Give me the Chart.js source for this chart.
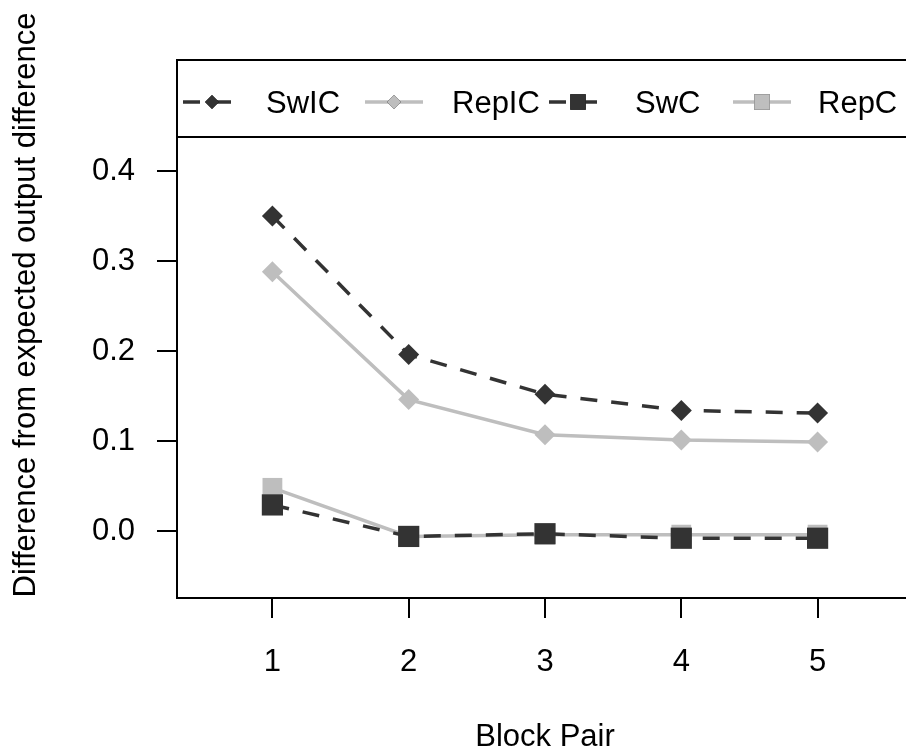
<!DOCTYPE html>
<html>
<head>
<meta charset="utf-8">
<script src="https://cdn.jsdelivr.net/npm/chart.js@4"></script>
<style>
  html, body { margin: 0; padding: 0; background: #fff; overflow: hidden; }
  #wrap { width: 906px; height: 751px; overflow: hidden; position: relative; }
  canvas { display: block; }
</style>
</head>
<body>
<div id="wrap"><canvas id="chart" width="930" height="751" style="width:930px;height:751px"></canvas></div>
<script>
// data
const blockPair = [1, 2, 3, 4, 5];
const swIC = [0.350, 0.196, 0.152, 0.134, 0.131];
const repIC = [0.288, 0.146, 0.107, 0.101, 0.099];
const swC = [0.029, -0.006, -0.003, -0.008, -0.008];
const repC = [0.048, -0.006, -0.004, -0.004, -0.004];
const yTicks = [0.0, 0.1, 0.2, 0.3, 0.4];
const seriesNames = ['SwIC', 'RepIC', 'SwC', 'RepC'];

const DARK = '#333333';
const GREY = '#bebebe';
const FONT = '"Liberation Sans", Arial, sans-serif';

function pts(vals) {
  return blockPair.map((x, i) => ({ x: x, y: vals[i] }));
}

function makeSet(label, vals, color, dashed, shape, radius) {
  return {
    label: label,
    data: pts(vals),
    borderColor: color,
    backgroundColor: color,
    borderWidth: 3.5,
    borderDash: dashed ? [17, 14] : [],
    pointStyle: shape,
    pointRadius: radius,
    pointHoverRadius: radius,
    pointBorderWidth: 0,
    pointBackgroundColor: color,
    tension: 0
  };
}

// box around the plot + legend box on top + axis titles
const frame = {
  id: 'frame',
  afterDraw(chart) {
    const ctx = chart.ctx;
    const a = chart.chartArea;
    ctx.save();
    ctx.strokeStyle = '#000';
    ctx.lineWidth = 2;
    ctx.strokeRect(a.left, a.top, a.right - a.left, a.bottom - a.top);

    // legend
    const legBottom = 137;
    ctx.beginPath();
    ctx.moveTo(a.left, legBottom);
    ctx.lineTo(a.right, legBottom);
    ctx.stroke();

    const marks = [212, 394, 578, 762];
    const texts = [266, 452, 635, 818];
    const ly = 102;
    ctx.save();
    ctx.beginPath();
    ctx.rect(a.left + 1, a.top + 1, a.right - a.left - 2, legBottom - a.top - 2);
    ctx.clip();
    chart.data.datasets.forEach((ds, i) => {
      ctx.save();
      ctx.strokeStyle = ds.borderColor;
      ctx.lineWidth = ds.borderWidth;
      ctx.setLineDash(ds.borderDash);
      ctx.beginPath();
      ctx.moveTo(marks[i] - 29, ly);
      ctx.lineTo(marks[i] + 29, ly);
      ctx.stroke();
      ctx.restore();
      Chart.helpers.drawPoint(ctx, {
        pointStyle: ds.pointStyle,
        radius: ds.pointStyle === 'rect' ? 11 : 7,
        borderWidth: 0,
        rotation: 0
      }, marks[i], ly);
      ctx.fillStyle = ds.pointBackgroundColor;
      ctx.fill();
      ctx.fillStyle = '#000';
      ctx.font = '31px ' + FONT;
      ctx.textAlign = 'left';
      ctx.textBaseline = 'middle';
      ctx.fillText(ds.label, texts[i], ly + 2);
    });
    ctx.restore();

    // axis titles
    ctx.fillStyle = '#000';
    ctx.font = '31px ' + FONT;
    ctx.textAlign = 'center';
    ctx.textBaseline = 'alphabetic';
    ctx.fillText('Block Pair', 545, 746);
    ctx.save();
    ctx.translate(35, 305);
    ctx.rotate(-Math.PI / 2);
    ctx.fillText('Difference from expected output difference', 0, 0);
    ctx.restore();
    ctx.restore();
  }
};

new Chart(document.getElementById('chart').getContext('2d'), {
  type: 'line',
  data: {
    datasets: [
      makeSet(seriesNames[0], swIC, DARK, true, 'rectRot', 10.5),
      makeSet(seriesNames[1], repIC, GREY, false, 'rectRot', 10.5),
      makeSet(seriesNames[2], swC, DARK, true, 'rect', 15),
      makeSet(seriesNames[3], repC, GREY, false, 'rect', 14)
    ]
  },
  options: {
    responsive: false,
    animation: false,
    layout: { padding: { left: 0, top: 60, right: 17, bottom: 0 } },
    plugins: { legend: { display: false }, tooltip: { enabled: false } },
    scales: {
      x: {
        type: 'linear',
        min: 0.3,
        max: 5.7,
        afterBuildTicks(scale) { scale.ticks = blockPair.map(v => ({ value: v })); },
        afterFit(scale) { scale.height = 153; },
        border: { display: false },
        grid: { drawOnChartArea: false, drawTicks: true, tickLength: 20, color: '#000', lineWidth: 2 },
        ticks: { color: '#000', font: { family: FONT, size: 31 }, padding: 26, maxRotation: 0,
                 callback: v => String(v) }
      },
      y: {
        type: 'linear',
        min: -0.0744,
        max: 0.5233,
        afterBuildTicks(scale) { scale.ticks = yTicks.map(v => ({ value: v })); },
        afterFit(scale) { scale.width = 177; },
        border: { display: false },
        grid: { drawOnChartArea: false, drawTicks: true, tickLength: 20, color: '#000', lineWidth: 2 },
        ticks: { color: '#000', font: { family: FONT, size: 31 }, padding: 22,
                 callback: v => v.toFixed(1) }
      }
    }
  },
  plugins: [frame]
});
</script>
</body>
</html>
